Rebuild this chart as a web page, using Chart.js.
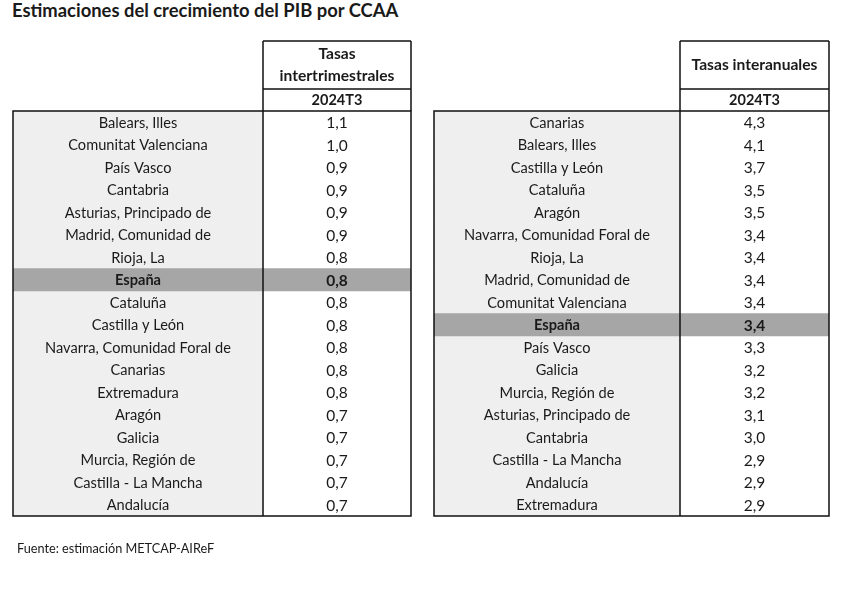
<!DOCTYPE html>
<html>
<head>
<meta charset="utf-8">
<script src="https://cdn.jsdelivr.net/npm/chart.js@4.4.0/dist/chart.umd.min.js"></script>
<style>
  body { margin: 0; background: #fff; width: 868px; height: 592px; position: relative; overflow: hidden; font-family: Lato, "Open Sans", sans-serif; color: #1a1a1a; }
  #title { position: absolute; left: 12px; top: -1px; font-weight: bold; font-size: 18.4px; }
  #source { position: absolute; left: 17px; top: 540px; font-size: 12.7px; }
  canvas { position: absolute; top: 0; }
</style>
</head>
<body>
<div id="title">Estimaciones del crecimiento del PIB por CCAA</div>
<canvas id="left" width="430" height="592" style="left:0"></canvas>
<canvas id="right" width="438" height="592" style="left:430px"></canvas>
<div id="source">Fuente: estimación METCAP-AIReF</div>
<script>
const period = '2024T3';
const highlight = 'España';
//Quarter on quarter rates
const qoqRegions = ['Balears, Illes', 'Comunitat Valenciana', 'País Vasco', 'Cantabria',
  'Asturias, Principado de', 'Madrid, Comunidad de', 'Rioja, La', 'España', 'Cataluña',
  'Castilla y León', 'Navarra, Comunidad Foral de', 'Canarias', 'Extremadura', 'Aragón',
  'Galicia', 'Murcia, Región de', 'Castilla - La Mancha', 'Andalucía'];
const qoqValues = [1.1, 1.0, 0.9, 0.9, 0.9, 0.9, 0.8, 0.8, 0.8, 0.8, 0.8, 0.8, 0.8, 0.7, 0.7, 0.7, 0.7, 0.7];
//Year on year rates
const yoyRegions = ['Canarias', 'Balears, Illes', 'Castilla y León', 'Cataluña', 'Aragón',
  'Navarra, Comunidad Foral de', 'Rioja, La', 'Madrid, Comunidad de', 'Comunitat Valenciana',
  'España', 'País Vasco', 'Galicia', 'Murcia, Región de', 'Asturias, Principado de',
  'Cantabria', 'Castilla - La Mancha', 'Andalucía', 'Extremadura'];
const yoyValues = [4.3, 4.1, 3.7, 3.5, 3.5, 3.4, 3.4, 3.4, 3.4, 3.4, 3.3, 3.2, 3.2, 3.1, 3.0, 2.9, 2.9, 2.9];

const FONT = 'Lato, "Open Sans", sans-serif';
const fmt = v => v.toFixed(1).replace('.', ',');

//draws the header box, borders and texts on top of the bars
const tablePlugin = {
  id: 'table',
  afterDatasetsDraw(chart, args, opts) {
    const { ctx, chartArea: a, scales: { x, y } } = chart;
    const xs = x.getPixelForValue(opts.split);
    const xr = x.getPixelForValue(1);
    const xl = x.getPixelForValue(0);
    ctx.save();
    ctx.strokeStyle = '#111';
    ctx.lineWidth = 1.5;
    //body borders
    ctx.strokeRect(xl, a.top, xr - xl, a.bottom - a.top);
    ctx.beginPath();
    ctx.moveTo(xs, opts.headerTop);
    ctx.lineTo(xs, a.bottom);
    ctx.moveTo(xr, opts.headerTop);
    ctx.lineTo(xr, a.top);
    ctx.moveTo(xs, opts.headerTop);
    ctx.lineTo(xr, opts.headerTop);
    ctx.moveTo(xs, opts.subTop);
    ctx.lineTo(xr, opts.subTop);
    ctx.stroke();
    //header texts
    ctx.fillStyle = '#1a1a1a';
    ctx.textAlign = 'center';
    ctx.textBaseline = 'middle';
    ctx.font = 'bold 15.6px ' + FONT;
    const xc = (xs + xr) / 2;
    const mid = (opts.headerTop + opts.subTop) / 2;
    opts.header.forEach((line, i) => {
      ctx.fillText(line, xc, mid + (i - (opts.header.length - 1) / 2) * 22);
    });
    ctx.font = 'bold 14.5px ' + FONT;
    ctx.fillText(period, xc, (opts.subTop + a.top) / 2);
    //rows
    const xLab = x.getPixelForValue(opts.split / 2);
    chart.data.labels.forEach((lab, i) => {
      const py = y.getPixelForValue(i) + 1;
      const bold = lab === highlight;
      ctx.font = (bold ? 'bold ' : '') + '14.6px ' + FONT;
      ctx.fillText(lab, xLab, py);
      ctx.font = (bold ? 'bold ' : '') + '15.5px ' + FONT;
      ctx.fillText(fmt(opts.values[i]), xc, py);
    });
    ctx.restore();
  }
};

function makeTable(id, regions, values, header, pad, split) {
  return new Chart(document.getElementById(id), {
    type: 'bar',
    plugins: [tablePlugin],
    data: {
      labels: regions,
      datasets: [
        { data: regions.map(r => r === highlight ? [0, 1] : null), backgroundColor: '#a6a6a6' },
        { data: regions.map(() => [0, split]), backgroundColor: '#efefef' },
        { data: regions.map(() => [split, 1]), backgroundColor: '#ffffff' }
      ]
    },
    options: {
      indexAxis: 'y',
      responsive: false,
      animation: false,
      events: [],
      grouped: false,
      barPercentage: 1,
      categoryPercentage: 1,
      borderWidth: 0,
      layout: { padding: pad },
      scales: {
        x: { type: 'linear', min: 0, max: 1, display: false },
        y: { type: 'category', display: false }
      },
      plugins: {
        legend: { display: false },
        tooltip: { enabled: false },
        table: { split: split, values: values, header: header, headerTop: 41, subTop: 89 }
      }
    }
  });
}

makeTable('left', qoqRegions, qoqValues, ['Tasas', 'intertrimestrales'],
  { left: 13, right: 19, top: 111, bottom: 76 }, 250 / 398);
makeTable('right', yoyRegions, yoyValues, ['Tasas interanuales'],
  { left: 4, right: 39, top: 111, bottom: 76 }, 246 / 395);
</script>
</body>
</html>
